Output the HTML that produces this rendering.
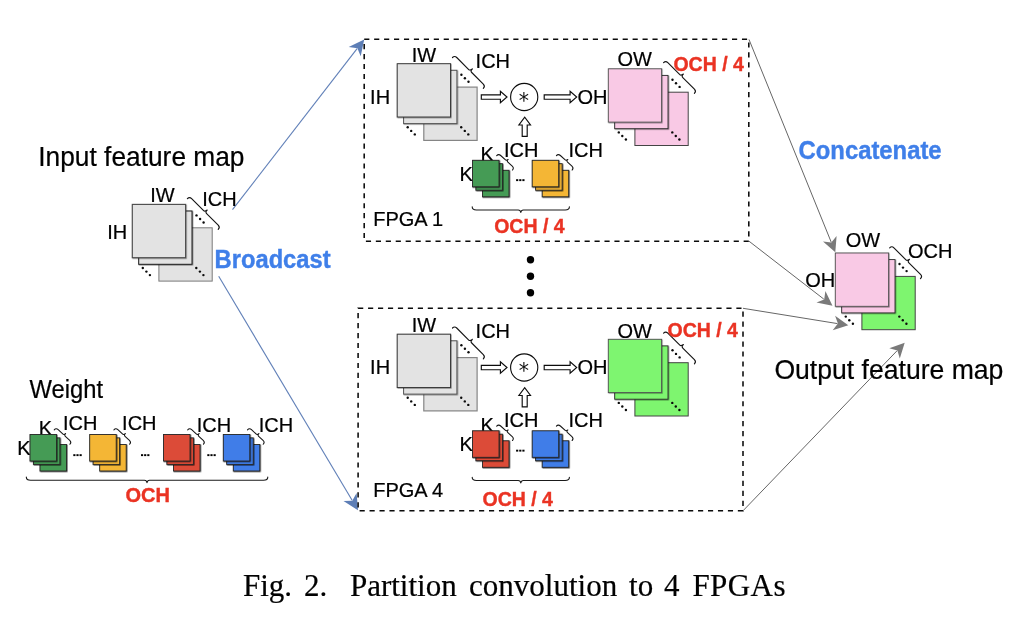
<!DOCTYPE html>
<html><head><meta charset="utf-8"><title>Fig. 2</title>
<style>html,body{margin:0;padding:0;background:#fff;overflow:hidden}svg{display:block;will-change:transform;opacity:0.9999}</style></head>
<body>
<svg width="1020" height="617" viewBox="0 0 1020 617">
<rect width="1020" height="617" fill="#fff"/>
<defs><filter id="sh" x="-10%" y="-10%" width="125%" height="125%"><feDropShadow dx="0.6" dy="0.6" stdDeviation="0.28" flood-color="#000" flood-opacity="0.75"/></filter><filter id="shb" x="-10%" y="-10%" width="125%" height="125%"><feDropShadow dx="0.6" dy="0.6" stdDeviation="0.35" flood-color="#000" flood-opacity="0.5"/></filter></defs>
<line x1="232.5" y1="209.7" x2="357.1" y2="48.6" stroke="#6180b8" stroke-width="1.12"/>
<path d="M364.2,39.4 L360.7,56.3 L357.4,48.2 L348.7,47.0 Z" fill="#5d7eb6"/>
<line x1="218.7" y1="276.3" x2="352.1" y2="500.3" stroke="#6180b8" stroke-width="1.12"/>
<path d="M358.0,510.3 L343.5,500.9 L352.3,500.7 L356.6,493.1 Z" fill="#5d7eb6"/>
<line x1="749" y1="39.5" x2="831.2" y2="242.1" stroke="#666" stroke-width="1"/>
<path d="M835.3,252.2 L823.0,241.4 L831.3,242.5 L836.6,235.9 Z" fill="#7a7a7a"/>
<line x1="749" y1="241.2" x2="823.8" y2="299.1" stroke="#666" stroke-width="1"/>
<path d="M832.5,305.8 L816.5,302.6 L824.2,299.4 L825.4,291.1 Z" fill="#7a7a7a"/>
<line x1="743" y1="308.3" x2="837.5" y2="323.6" stroke="#666" stroke-width="1"/>
<path d="M848.3,325.3 L832.7,330.2 L837.9,323.6 L835.1,315.8 Z" fill="#7a7a7a"/>
<line x1="743" y1="510.8" x2="897.1" y2="350.7" stroke="#666" stroke-width="1"/>
<path d="M904.7,342.8 L899.8,358.4 L897.4,350.4 L889.3,348.3 Z" fill="#7a7a7a"/>
<rect x="364.2" y="39.3" width="384.6" height="201.9" fill="none" stroke="#0a0a0a" stroke-width="1.55" stroke-dasharray="5.15 4.7907"/>
<rect x="358.1" y="308.3" width="384.9" height="202.4" fill="none" stroke="#0a0a0a" stroke-width="1.55" stroke-dasharray="5.15 4.8042"/>
<text x="38.3" y="165.8" font-family='"Liberation Sans", Arial, Helvetica, sans-serif' font-size="27.04" fill="#000" textLength="206.2" lengthAdjust="spacingAndGlyphs" stroke="#000" stroke-width="0.22" xml:space="preserve">Input feature map</text>
<rect x="158.9" y="227.8" width="53.3" height="53.3" fill="#E3E3E3" stroke="#7a7a7a" stroke-width="1"/>
<rect x="138.7" y="211.0" width="53.3" height="53.3" fill="#E3E3E3" stroke="#1c1c1c" stroke-width="1" filter="url(#shb)"/>
<rect x="132.3" y="204.4" width="53.3" height="53.3" fill="#E3E3E3" stroke="#4a4a4a" stroke-width="1.1" filter="url(#shb)"/>
<circle cx="196.5" cy="215.4" r="1.2" fill="#0a0a0a"/>
<circle cx="200.1" cy="219.0" r="1.2" fill="#0a0a0a"/>
<circle cx="203.6" cy="222.5" r="1.2" fill="#0a0a0a"/>
<circle cx="142.8" cy="268.0" r="1.2" fill="#0a0a0a"/>
<circle cx="146.4" cy="271.6" r="1.2" fill="#0a0a0a"/>
<circle cx="149.9" cy="275.1" r="1.2" fill="#0a0a0a"/>
<circle cx="196.3" cy="268.0" r="1.2" fill="#0a0a0a"/>
<circle cx="199.9" cy="271.6" r="1.2" fill="#0a0a0a"/>
<circle cx="203.4" cy="275.1" r="1.2" fill="#0a0a0a"/>
<path transform="translate(189.5,196.5) rotate(45)" d="M0,3.0 C0,1.05 1.05,0 3.0,0 L20.00,0 Q21.60,0 22.10,-2.9 M22.10,-2.9 Q22.00,0 24.20,0 L40.6,0 C42.55,0 43.6,1.05 43.6,3.0" fill="none" stroke="#151515" stroke-width="1.15" stroke-linecap="round" stroke-linejoin="round"/>
<text x="150.3" y="201.7" font-family='"Liberation Sans", Arial, Helvetica, sans-serif' font-size="20.8" fill="#000" textLength="24.43" lengthAdjust="spacingAndGlyphs" stroke="#000" stroke-width="0.22" xml:space="preserve">IW</text>
<text x="202.2" y="206.3" font-family='"Liberation Sans", Arial, Helvetica, sans-serif' font-size="20.8" fill="#000" textLength="34.44" lengthAdjust="spacingAndGlyphs" stroke="#000" stroke-width="0.22" xml:space="preserve">ICH</text>
<text x="107.3" y="238.6" font-family='"Liberation Sans", Arial, Helvetica, sans-serif' font-size="20.8" fill="#000" textLength="20.0" lengthAdjust="spacingAndGlyphs" stroke="#000" stroke-width="0.22" xml:space="preserve">IH</text>
<text x="214.6" y="268" font-family='"Liberation Sans", Arial, Helvetica, sans-serif' font-size="24.96" fill="#3F7FE9" textLength="116" lengthAdjust="spacingAndGlyphs" font-weight="bold" stroke="#3F7FE9" stroke-width="0.4" xml:space="preserve">Broadcast</text>
<text x="29.6" y="398" font-family='"Liberation Sans", Arial, Helvetica, sans-serif' font-size="24.96" fill="#000" textLength="73.5" lengthAdjust="spacingAndGlyphs" stroke="#000" stroke-width="0.22" xml:space="preserve">Weight</text>
<text x="38.8" y="435" font-family='"Liberation Sans", Arial, Helvetica, sans-serif' font-size="20.8" fill="#000" textLength="13.34" lengthAdjust="spacingAndGlyphs" stroke="#000" stroke-width="0.22" xml:space="preserve">K</text>
<text x="17.2" y="455" font-family='"Liberation Sans", Arial, Helvetica, sans-serif' font-size="20.8" fill="#000" textLength="13.34" lengthAdjust="spacingAndGlyphs" stroke="#000" stroke-width="0.22" xml:space="preserve">K</text>
<rect x="40.0" y="444.5" width="26.5" height="26.5" fill="#459B54" stroke="#262626" stroke-width="0.9" filter="url(#sh)"/>
<rect x="33.4" y="437.9" width="26.5" height="26.5" fill="#459B54" stroke="#262626" stroke-width="0.9" filter="url(#sh)"/>
<rect x="30.0" y="434.5" width="26.5" height="26.5" fill="#459B54" stroke="#262626" stroke-width="0.9" filter="url(#sh)"/>
<path transform="translate(56.1,427.8) rotate(42.5)" d="M0,2.8 C0,0.98 0.98,0 2.8,0 L9.35,0 Q10.45,0 10.95,-2.1 M10.95,-2.1 Q10.85,0 12.55,0 L18.5,0 C20.32,0 21.3,0.98 21.3,2.8" fill="none" stroke="#151515" stroke-width="1.05" stroke-linecap="round" stroke-linejoin="round"/>
<rect x="99.7" y="444.5" width="26.5" height="26.5" fill="#F4B636" stroke="#262626" stroke-width="0.9" filter="url(#sh)"/>
<rect x="93.1" y="437.9" width="26.5" height="26.5" fill="#F4B636" stroke="#262626" stroke-width="0.9" filter="url(#sh)"/>
<rect x="89.7" y="434.5" width="26.5" height="26.5" fill="#F4B636" stroke="#262626" stroke-width="0.9" filter="url(#sh)"/>
<path transform="translate(115.8,427.8) rotate(42.5)" d="M0,2.8 C0,0.98 0.98,0 2.8,0 L9.35,0 Q10.45,0 10.95,-2.1 M10.95,-2.1 Q10.85,0 12.55,0 L18.5,0 C20.32,0 21.3,0.98 21.3,2.8" fill="none" stroke="#151515" stroke-width="1.05" stroke-linecap="round" stroke-linejoin="round"/>
<rect x="173.5" y="444.5" width="26.5" height="26.5" fill="#DC4B38" stroke="#262626" stroke-width="0.9" filter="url(#sh)"/>
<rect x="166.9" y="437.9" width="26.5" height="26.5" fill="#DC4B38" stroke="#262626" stroke-width="0.9" filter="url(#sh)"/>
<rect x="163.5" y="434.5" width="26.5" height="26.5" fill="#DC4B38" stroke="#262626" stroke-width="0.9" filter="url(#sh)"/>
<path transform="translate(189.6,427.8) rotate(42.5)" d="M0,2.8 C0,0.98 0.98,0 2.8,0 L9.35,0 Q10.45,0 10.95,-2.1 M10.95,-2.1 Q10.85,0 12.55,0 L18.5,0 C20.32,0 21.3,0.98 21.3,2.8" fill="none" stroke="#151515" stroke-width="1.05" stroke-linecap="round" stroke-linejoin="round"/>
<rect x="233.3" y="444.5" width="26.5" height="26.5" fill="#407DE8" stroke="#262626" stroke-width="0.9" filter="url(#sh)"/>
<rect x="226.7" y="437.9" width="26.5" height="26.5" fill="#407DE8" stroke="#262626" stroke-width="0.9" filter="url(#sh)"/>
<rect x="223.3" y="434.5" width="26.5" height="26.5" fill="#407DE8" stroke="#262626" stroke-width="0.9" filter="url(#sh)"/>
<path transform="translate(249.4,427.8) rotate(42.5)" d="M0,2.8 C0,0.98 0.98,0 2.8,0 L9.35,0 Q10.45,0 10.95,-2.1 M10.95,-2.1 Q10.85,0 12.55,0 L18.5,0 C20.32,0 21.3,0.98 21.3,2.8" fill="none" stroke="#151515" stroke-width="1.05" stroke-linecap="round" stroke-linejoin="round"/>
<text x="62.9" y="430" font-family='"Liberation Sans", Arial, Helvetica, sans-serif' font-size="20.8" fill="#000" textLength="34.44" lengthAdjust="spacingAndGlyphs" stroke="#000" stroke-width="0.22" xml:space="preserve">ICH</text>
<text x="122.1" y="430" font-family='"Liberation Sans", Arial, Helvetica, sans-serif' font-size="20.8" fill="#000" textLength="34.44" lengthAdjust="spacingAndGlyphs" stroke="#000" stroke-width="0.22" xml:space="preserve">ICH</text>
<text x="196.7" y="431.7" font-family='"Liberation Sans", Arial, Helvetica, sans-serif' font-size="20.8" fill="#000" textLength="34.44" lengthAdjust="spacingAndGlyphs" stroke="#000" stroke-width="0.22" xml:space="preserve">ICH</text>
<text x="258.7" y="431.7" font-family='"Liberation Sans", Arial, Helvetica, sans-serif' font-size="20.8" fill="#000" textLength="34.44" lengthAdjust="spacingAndGlyphs" stroke="#000" stroke-width="0.22" xml:space="preserve">ICH</text>
<rect x="73.30" y="454.2" width="2.15" height="1.9" fill="#000"/>
<rect x="76.43" y="454.2" width="2.15" height="1.9" fill="#000"/>
<rect x="79.56" y="454.2" width="2.15" height="1.9" fill="#000"/>
<rect x="141.00" y="454.2" width="2.15" height="1.9" fill="#000"/>
<rect x="144.13" y="454.2" width="2.15" height="1.9" fill="#000"/>
<rect x="147.26" y="454.2" width="2.15" height="1.9" fill="#000"/>
<rect x="207.30" y="454.2" width="2.15" height="1.9" fill="#000"/>
<rect x="210.43" y="454.2" width="2.15" height="1.9" fill="#000"/>
<rect x="213.56" y="454.2" width="2.15" height="1.9" fill="#000"/>
<path d="M26.3,477 Q26.3,480.3 30.600000000000012,480.3 H144.4 Q146.7,480.3 147,482.6 Q147.3,480.3 149.6,480.3 H263.5 Q267.8,480.3 267.8,477" fill="none" stroke="#1a1a1a" stroke-width="1.1" stroke-linecap="round" stroke-linejoin="round"/>
<text x="125.5" y="502.3" font-family='"Liberation Sans", Arial, Helvetica, sans-serif' font-size="20.8" fill="#EA3323" textLength="44.44" lengthAdjust="spacingAndGlyphs" font-weight="bold" stroke="#EA3323" stroke-width="0.4" xml:space="preserve">OCH</text>
<rect x="423.8" y="87.1" width="53.3" height="53.3" fill="#E3E3E3" stroke="#858585" stroke-width="1.2"/>
<rect x="403.6" y="70.3" width="53.3" height="53.3" fill="#E3E3E3" stroke="#555" stroke-width="1.0" filter="url(#shb)"/>
<rect x="397.2" y="63.7" width="53.3" height="53.3" fill="#E3E3E3" stroke="#3a3a3a" stroke-width="1.0" filter="url(#shb)"/>
<circle cx="461.4" cy="74.7" r="1.2" fill="#0a0a0a"/>
<circle cx="464.9" cy="78.2" r="1.2" fill="#0a0a0a"/>
<circle cx="468.5" cy="81.8" r="1.2" fill="#0a0a0a"/>
<circle cx="407.7" cy="127.3" r="1.2" fill="#0a0a0a"/>
<circle cx="411.2" cy="130.9" r="1.2" fill="#0a0a0a"/>
<circle cx="414.8" cy="134.4" r="1.2" fill="#0a0a0a"/>
<circle cx="461.2" cy="127.3" r="1.2" fill="#0a0a0a"/>
<circle cx="464.8" cy="130.9" r="1.2" fill="#0a0a0a"/>
<circle cx="468.3" cy="134.4" r="1.2" fill="#0a0a0a"/>
<path transform="translate(454.6,55.4) rotate(45)" d="M0,3.0 C0,1.05 1.05,0 3.0,0 L20.00,0 Q21.60,0 22.10,-2.9 M22.10,-2.9 Q22.00,0 24.20,0 L40.6,0 C42.55,0 43.6,1.05 43.6,3.0" fill="none" stroke="#151515" stroke-width="1.15" stroke-linecap="round" stroke-linejoin="round"/>
<text x="411.8" y="61.7" font-family='"Liberation Sans", Arial, Helvetica, sans-serif' font-size="20.8" fill="#000" textLength="24.43" lengthAdjust="spacingAndGlyphs" stroke="#000" stroke-width="0.22" xml:space="preserve">IW</text>
<text x="475.6" y="67.8" font-family='"Liberation Sans", Arial, Helvetica, sans-serif' font-size="20.8" fill="#000" textLength="34.44" lengthAdjust="spacingAndGlyphs" stroke="#000" stroke-width="0.22" xml:space="preserve">ICH</text>
<text x="370.1" y="103.8" font-family='"Liberation Sans", Arial, Helvetica, sans-serif' font-size="20.8" fill="#000" textLength="20.0" lengthAdjust="spacingAndGlyphs" stroke="#000" stroke-width="0.22" xml:space="preserve">IH</text>
<path d="M481.3,94.8 H500.4 V91.2 L507,97 L500.4,102.8 V99.2 H481.3 Z" fill="#fff" stroke="#0c0c0c" stroke-width="1.15" stroke-linejoin="miter"/>
<circle cx="524.2" cy="97" r="13.6" fill="#fff" stroke="#0c0c0c" stroke-width="1.12"/>
<text x="523.9" y="107.7" font-family="DejaVu Sans, sans-serif" font-size="20.5" text-anchor="middle" fill="#111">*</text>
<path d="M544.2,94.8 H570.1 V91.2 L576.7,97 L570.1,102.8 V99.2 H544.2 Z" fill="#fff" stroke="#0c0c0c" stroke-width="1.15" stroke-linejoin="miter"/>
<path d="M522.2,136.4 V125.0 H518.9000000000001 L524.7,117.2 L530.5,125.0 H527.2 V136.4 Z" fill="#fff" stroke="#0c0c0c" stroke-width="1.15" stroke-linejoin="miter"/>
<text x="577.4" y="103.7" font-family='"Liberation Sans", Arial, Helvetica, sans-serif' font-size="20.8" fill="#000" textLength="30.0" lengthAdjust="spacingAndGlyphs" stroke="#000" stroke-width="0.22" xml:space="preserve">OH</text>
<rect x="634.9" y="92.2" width="53.3" height="53.3" fill="#F9C9E5" stroke="#444" stroke-width="1"/>
<rect x="614.7" y="75.4" width="53.3" height="53.3" fill="#F9C9E5" stroke="#2a2a2a" stroke-width="0.9" filter="url(#shb)"/>
<rect x="608.3" y="68.8" width="53.3" height="53.3" fill="#F9C9E5" stroke="#505050" stroke-width="0.9" filter="url(#shb)"/>
<circle cx="672.5" cy="79.8" r="1.2" fill="#0a0a0a"/>
<circle cx="676.0" cy="83.3" r="1.2" fill="#0a0a0a"/>
<circle cx="679.6" cy="86.9" r="1.2" fill="#0a0a0a"/>
<circle cx="618.8" cy="132.4" r="1.2" fill="#0a0a0a"/>
<circle cx="622.3" cy="136.0" r="1.2" fill="#0a0a0a"/>
<circle cx="625.9" cy="139.5" r="1.2" fill="#0a0a0a"/>
<circle cx="672.3" cy="132.4" r="1.2" fill="#0a0a0a"/>
<circle cx="675.8" cy="136.0" r="1.2" fill="#0a0a0a"/>
<circle cx="679.4" cy="139.5" r="1.2" fill="#0a0a0a"/>
<path transform="translate(665.7,60.5) rotate(45)" d="M0,3.0 C0,1.05 1.05,0 3.0,0 L20.00,0 Q21.60,0 22.10,-2.9 M22.10,-2.9 Q22.00,0 24.20,0 L40.6,0 C42.55,0 43.6,1.05 43.6,3.0" fill="none" stroke="#151515" stroke-width="1.15" stroke-linecap="round" stroke-linejoin="round"/>
<text x="617.4" y="65.8" font-family='"Liberation Sans", Arial, Helvetica, sans-serif' font-size="20.8" fill="#000" textLength="34.43" lengthAdjust="spacingAndGlyphs" stroke="#000" stroke-width="0.22" xml:space="preserve">OW</text>
<text x="673.4" y="70.8" font-family='"Liberation Sans", Arial, Helvetica, sans-serif' font-size="20.8" fill="#EA3323" textLength="70.43" lengthAdjust="spacingAndGlyphs" font-weight="bold" stroke="#EA3323" stroke-width="0.4" xml:space="preserve">OCH / 4</text>
<text x="480.4" y="161" font-family='"Liberation Sans", Arial, Helvetica, sans-serif' font-size="20.8" fill="#000" textLength="13.34" lengthAdjust="spacingAndGlyphs" stroke="#000" stroke-width="0.22" xml:space="preserve">K</text>
<text x="459.4" y="180.5" font-family='"Liberation Sans", Arial, Helvetica, sans-serif' font-size="20.8" fill="#000" textLength="13.34" lengthAdjust="spacingAndGlyphs" stroke="#000" stroke-width="0.22" xml:space="preserve">K</text>
<rect x="482.5" y="170.3" width="26.5" height="26.5" fill="#459B54" stroke="#262626" stroke-width="0.9" filter="url(#sh)"/>
<rect x="475.9" y="163.7" width="26.5" height="26.5" fill="#459B54" stroke="#262626" stroke-width="0.9" filter="url(#sh)"/>
<rect x="472.5" y="160.3" width="26.5" height="26.5" fill="#459B54" stroke="#262626" stroke-width="0.9" filter="url(#sh)"/>
<path transform="translate(498.6,153.6) rotate(42.5)" d="M0,2.8 C0,0.98 0.98,0 2.8,0 L9.35,0 Q10.45,0 10.95,-2.1 M10.95,-2.1 Q10.85,0 12.55,0 L18.5,0 C20.32,0 21.3,0.98 21.3,2.8" fill="none" stroke="#151515" stroke-width="1.05" stroke-linecap="round" stroke-linejoin="round"/>
<rect x="542.2" y="170.3" width="26.5" height="26.5" fill="#F4B636" stroke="#262626" stroke-width="0.9" filter="url(#sh)"/>
<rect x="535.6" y="163.7" width="26.5" height="26.5" fill="#F4B636" stroke="#262626" stroke-width="0.9" filter="url(#sh)"/>
<rect x="532.2" y="160.3" width="26.5" height="26.5" fill="#F4B636" stroke="#262626" stroke-width="0.9" filter="url(#sh)"/>
<path transform="translate(558.3,153.6) rotate(42.5)" d="M0,2.8 C0,0.98 0.98,0 2.8,0 L9.35,0 Q10.45,0 10.95,-2.1 M10.95,-2.1 Q10.85,0 12.55,0 L18.5,0 C20.32,0 21.3,0.98 21.3,2.8" fill="none" stroke="#151515" stroke-width="1.05" stroke-linecap="round" stroke-linejoin="round"/>
<text x="503.9" y="156.8" font-family='"Liberation Sans", Arial, Helvetica, sans-serif' font-size="20.8" fill="#000" textLength="34.44" lengthAdjust="spacingAndGlyphs" stroke="#000" stroke-width="0.22" xml:space="preserve">ICH</text>
<text x="568.4" y="156.8" font-family='"Liberation Sans", Arial, Helvetica, sans-serif' font-size="20.8" fill="#000" textLength="34.44" lengthAdjust="spacingAndGlyphs" stroke="#000" stroke-width="0.22" xml:space="preserve">ICH</text>
<rect x="516.10" y="179.2" width="2.15" height="1.9" fill="#000"/>
<rect x="519.23" y="179.2" width="2.15" height="1.9" fill="#000"/>
<rect x="522.36" y="179.2" width="2.15" height="1.9" fill="#000"/>
<path d="M472.2,206.8 Q472.2,210 476.4,210 H518.1999999999999 Q520.5,210 520.8,212.5 Q521.0999999999999,210 523.4,210 H565.2 Q569.4,210 569.4,206.8" fill="none" stroke="#1a1a1a" stroke-width="1.1" stroke-linecap="round" stroke-linejoin="round"/>
<text x="373.2" y="225.8" font-family='"Liberation Sans", Arial, Helvetica, sans-serif' font-size="20.8" fill="#000" textLength="70.03" lengthAdjust="spacingAndGlyphs" stroke="#000" stroke-width="0.22" xml:space="preserve">FPGA 1</text>
<text x="494.2" y="233.2" font-family='"Liberation Sans", Arial, Helvetica, sans-serif' font-size="20.8" fill="#EA3323" textLength="70.43" lengthAdjust="spacingAndGlyphs" font-weight="bold" stroke="#EA3323" stroke-width="0.4" xml:space="preserve">OCH / 4</text>
<rect x="423.8" y="357.6" width="53.3" height="53.3" fill="#E3E3E3" stroke="#858585" stroke-width="1.2"/>
<rect x="403.6" y="340.8" width="53.3" height="53.3" fill="#E3E3E3" stroke="#555" stroke-width="1.0" filter="url(#shb)"/>
<rect x="397.2" y="334.2" width="53.3" height="53.3" fill="#E3E3E3" stroke="#3a3a3a" stroke-width="1.0" filter="url(#shb)"/>
<circle cx="461.4" cy="345.2" r="1.2" fill="#0a0a0a"/>
<circle cx="464.9" cy="348.8" r="1.2" fill="#0a0a0a"/>
<circle cx="468.5" cy="352.3" r="1.2" fill="#0a0a0a"/>
<circle cx="407.7" cy="397.8" r="1.2" fill="#0a0a0a"/>
<circle cx="411.2" cy="401.4" r="1.2" fill="#0a0a0a"/>
<circle cx="414.8" cy="404.9" r="1.2" fill="#0a0a0a"/>
<circle cx="461.2" cy="397.8" r="1.2" fill="#0a0a0a"/>
<circle cx="464.8" cy="401.4" r="1.2" fill="#0a0a0a"/>
<circle cx="468.3" cy="404.9" r="1.2" fill="#0a0a0a"/>
<path transform="translate(454.6,325.9) rotate(45)" d="M0,3.0 C0,1.05 1.05,0 3.0,0 L20.00,0 Q21.60,0 22.10,-2.9 M22.10,-2.9 Q22.00,0 24.20,0 L40.6,0 C42.55,0 43.6,1.05 43.6,3.0" fill="none" stroke="#151515" stroke-width="1.15" stroke-linecap="round" stroke-linejoin="round"/>
<text x="411.8" y="332.2" font-family='"Liberation Sans", Arial, Helvetica, sans-serif' font-size="20.8" fill="#000" textLength="24.43" lengthAdjust="spacingAndGlyphs" stroke="#000" stroke-width="0.22" xml:space="preserve">IW</text>
<text x="475.6" y="338.3" font-family='"Liberation Sans", Arial, Helvetica, sans-serif' font-size="20.8" fill="#000" textLength="34.44" lengthAdjust="spacingAndGlyphs" stroke="#000" stroke-width="0.22" xml:space="preserve">ICH</text>
<text x="370.1" y="374.3" font-family='"Liberation Sans", Arial, Helvetica, sans-serif' font-size="20.8" fill="#000" textLength="20.0" lengthAdjust="spacingAndGlyphs" stroke="#000" stroke-width="0.22" xml:space="preserve">IH</text>
<path d="M481.3,365.3 H500.4 V361.7 L507,367.5 L500.4,373.3 V369.7 H481.3 Z" fill="#fff" stroke="#0c0c0c" stroke-width="1.15" stroke-linejoin="miter"/>
<circle cx="524.2" cy="367.5" r="13.6" fill="#fff" stroke="#0c0c0c" stroke-width="1.12"/>
<text x="523.9" y="378.2" font-family="DejaVu Sans, sans-serif" font-size="20.5" text-anchor="middle" fill="#111">*</text>
<path d="M544.2,365.3 H570.1 V361.7 L576.7,367.5 L570.1,373.3 V369.7 H544.2 Z" fill="#fff" stroke="#0c0c0c" stroke-width="1.15" stroke-linejoin="miter"/>
<path d="M522.2,406.9 V395.5 H518.9000000000001 L524.7,387.7 L530.5,395.5 H527.2 V406.9 Z" fill="#fff" stroke="#0c0c0c" stroke-width="1.15" stroke-linejoin="miter"/>
<text x="577.4" y="374.2" font-family='"Liberation Sans", Arial, Helvetica, sans-serif' font-size="20.8" fill="#000" textLength="30.0" lengthAdjust="spacingAndGlyphs" stroke="#000" stroke-width="0.22" xml:space="preserve">OH</text>
<rect x="634.9" y="362.7" width="53.3" height="53.3" fill="#7EF56F" stroke="#444" stroke-width="1"/>
<rect x="614.7" y="345.9" width="53.3" height="53.3" fill="#7EF56F" stroke="#2a2a2a" stroke-width="0.9" filter="url(#shb)"/>
<rect x="608.3" y="339.3" width="53.3" height="53.3" fill="#7EF56F" stroke="#505050" stroke-width="0.9" filter="url(#shb)"/>
<circle cx="672.5" cy="350.3" r="1.2" fill="#0a0a0a"/>
<circle cx="676.0" cy="353.9" r="1.2" fill="#0a0a0a"/>
<circle cx="679.6" cy="357.4" r="1.2" fill="#0a0a0a"/>
<circle cx="618.8" cy="402.9" r="1.2" fill="#0a0a0a"/>
<circle cx="622.3" cy="406.5" r="1.2" fill="#0a0a0a"/>
<circle cx="625.9" cy="410.0" r="1.2" fill="#0a0a0a"/>
<circle cx="672.3" cy="402.9" r="1.2" fill="#0a0a0a"/>
<circle cx="675.8" cy="406.5" r="1.2" fill="#0a0a0a"/>
<circle cx="679.4" cy="410.0" r="1.2" fill="#0a0a0a"/>
<path transform="translate(665.7,331.0) rotate(45)" d="M0,3.0 C0,1.05 1.05,0 3.0,0 L20.00,0 Q21.60,0 22.10,-2.9 M22.10,-2.9 Q22.00,0 24.20,0 L40.6,0 C42.55,0 43.6,1.05 43.6,3.0" fill="none" stroke="#151515" stroke-width="1.15" stroke-linecap="round" stroke-linejoin="round"/>
<text x="617.4" y="337.5" font-family='"Liberation Sans", Arial, Helvetica, sans-serif' font-size="20.8" fill="#000" textLength="34.43" lengthAdjust="spacingAndGlyphs" stroke="#000" stroke-width="0.22" xml:space="preserve">OW</text>
<text x="667.5" y="336.7" font-family='"Liberation Sans", Arial, Helvetica, sans-serif' font-size="20.8" fill="#EA3323" textLength="70.43" lengthAdjust="spacingAndGlyphs" font-weight="bold" stroke="#EA3323" stroke-width="0.4" xml:space="preserve">OCH / 4</text>
<text x="480.4" y="431.5" font-family='"Liberation Sans", Arial, Helvetica, sans-serif' font-size="20.8" fill="#000" textLength="13.34" lengthAdjust="spacingAndGlyphs" stroke="#000" stroke-width="0.22" xml:space="preserve">K</text>
<text x="459.4" y="451.0" font-family='"Liberation Sans", Arial, Helvetica, sans-serif' font-size="20.8" fill="#000" textLength="13.34" lengthAdjust="spacingAndGlyphs" stroke="#000" stroke-width="0.22" xml:space="preserve">K</text>
<rect x="482.5" y="440.8" width="26.5" height="26.5" fill="#DC4B38" stroke="#262626" stroke-width="0.9" filter="url(#sh)"/>
<rect x="475.9" y="434.2" width="26.5" height="26.5" fill="#DC4B38" stroke="#262626" stroke-width="0.9" filter="url(#sh)"/>
<rect x="472.5" y="430.8" width="26.5" height="26.5" fill="#DC4B38" stroke="#262626" stroke-width="0.9" filter="url(#sh)"/>
<path transform="translate(498.6,424.1) rotate(42.5)" d="M0,2.8 C0,0.98 0.98,0 2.8,0 L9.35,0 Q10.45,0 10.95,-2.1 M10.95,-2.1 Q10.85,0 12.55,0 L18.5,0 C20.32,0 21.3,0.98 21.3,2.8" fill="none" stroke="#151515" stroke-width="1.05" stroke-linecap="round" stroke-linejoin="round"/>
<rect x="542.2" y="440.8" width="26.5" height="26.5" fill="#407DE8" stroke="#262626" stroke-width="0.9" filter="url(#sh)"/>
<rect x="535.6" y="434.2" width="26.5" height="26.5" fill="#407DE8" stroke="#262626" stroke-width="0.9" filter="url(#sh)"/>
<rect x="532.2" y="430.8" width="26.5" height="26.5" fill="#407DE8" stroke="#262626" stroke-width="0.9" filter="url(#sh)"/>
<path transform="translate(558.3,424.1) rotate(42.5)" d="M0,2.8 C0,0.98 0.98,0 2.8,0 L9.35,0 Q10.45,0 10.95,-2.1 M10.95,-2.1 Q10.85,0 12.55,0 L18.5,0 C20.32,0 21.3,0.98 21.3,2.8" fill="none" stroke="#151515" stroke-width="1.05" stroke-linecap="round" stroke-linejoin="round"/>
<text x="503.9" y="427.3" font-family='"Liberation Sans", Arial, Helvetica, sans-serif' font-size="20.8" fill="#000" textLength="34.44" lengthAdjust="spacingAndGlyphs" stroke="#000" stroke-width="0.22" xml:space="preserve">ICH</text>
<text x="568.4" y="427.3" font-family='"Liberation Sans", Arial, Helvetica, sans-serif' font-size="20.8" fill="#000" textLength="34.44" lengthAdjust="spacingAndGlyphs" stroke="#000" stroke-width="0.22" xml:space="preserve">ICH</text>
<rect x="516.10" y="449.7" width="2.15" height="1.9" fill="#000"/>
<rect x="519.23" y="449.7" width="2.15" height="1.9" fill="#000"/>
<rect x="522.36" y="449.7" width="2.15" height="1.9" fill="#000"/>
<path d="M472.2,477.3 Q472.2,480.5 476.4,480.5 H518.1999999999999 Q520.5,480.5 520.8,483.0 Q521.0999999999999,480.5 523.4,480.5 H565.2 Q569.4,480.5 569.4,477.3" fill="none" stroke="#1a1a1a" stroke-width="1.1" stroke-linecap="round" stroke-linejoin="round"/>
<text x="373.2" y="496.7" font-family='"Liberation Sans", Arial, Helvetica, sans-serif' font-size="20.8" fill="#000" textLength="70.03" lengthAdjust="spacingAndGlyphs" stroke="#000" stroke-width="0.22" xml:space="preserve">FPGA 4</text>
<text x="482.5" y="506.2" font-family='"Liberation Sans", Arial, Helvetica, sans-serif' font-size="20.8" fill="#EA3323" textLength="70.43" lengthAdjust="spacingAndGlyphs" font-weight="bold" stroke="#EA3323" stroke-width="0.4" xml:space="preserve">OCH / 4</text>
<circle cx="530.5" cy="259.7" r="3.7" fill="#000"/>
<circle cx="530.5" cy="276.2" r="3.7" fill="#000"/>
<circle cx="530.5" cy="292.7" r="3.7" fill="#000"/>
<text x="798.6" y="158.8" font-family='"Liberation Sans", Arial, Helvetica, sans-serif' font-size="24.96" fill="#3F7FE9" textLength="143" lengthAdjust="spacingAndGlyphs" font-weight="bold" stroke="#3F7FE9" stroke-width="0.4" xml:space="preserve">Concatenate</text>
<rect x="861.9" y="276.4" width="53.3" height="53.3" fill="#7EF56F" stroke="#444" stroke-width="1"/>
<rect x="841.7" y="259.6" width="53.3" height="53.3" fill="#F9C9E5" stroke="#2a2a2a" stroke-width="0.9" filter="url(#shb)"/>
<rect x="835.3" y="253.0" width="53.3" height="53.3" fill="#F9C9E5" stroke="#505050" stroke-width="0.9" filter="url(#shb)"/>
<circle cx="899.5" cy="264.0" r="1.2" fill="#0a0a0a"/>
<circle cx="903.0" cy="267.6" r="1.2" fill="#0a0a0a"/>
<circle cx="906.6" cy="271.1" r="1.2" fill="#0a0a0a"/>
<circle cx="845.8" cy="316.6" r="1.2" fill="#0a0a0a"/>
<circle cx="849.3" cy="320.2" r="1.2" fill="#0a0a0a"/>
<circle cx="852.9" cy="323.7" r="1.2" fill="#0a0a0a"/>
<circle cx="899.3" cy="316.6" r="1.2" fill="#0a0a0a"/>
<circle cx="902.8" cy="320.2" r="1.2" fill="#0a0a0a"/>
<circle cx="906.4" cy="323.7" r="1.2" fill="#0a0a0a"/>
<path transform="translate(891.8,245.7) rotate(45)" d="M0,3.0 C0,1.05 1.05,0 3.0,0 L20.00,0 Q21.60,0 22.10,-2.9 M22.10,-2.9 Q22.00,0 24.20,0 L40.6,0 C42.55,0 43.6,1.05 43.6,3.0" fill="none" stroke="#151515" stroke-width="1.15" stroke-linecap="round" stroke-linejoin="round"/>
<text x="845.8" y="246.7" font-family='"Liberation Sans", Arial, Helvetica, sans-serif' font-size="20.8" fill="#000" textLength="34.43" lengthAdjust="spacingAndGlyphs" stroke="#000" stroke-width="0.22" xml:space="preserve">OW</text>
<text x="805.3" y="287.2" font-family='"Liberation Sans", Arial, Helvetica, sans-serif' font-size="20.8" fill="#000" textLength="30.0" lengthAdjust="spacingAndGlyphs" stroke="#000" stroke-width="0.22" xml:space="preserve">OH</text>
<text x="907.9" y="258.3" font-family='"Liberation Sans", Arial, Helvetica, sans-serif' font-size="20.8" fill="#000" textLength="44.44" lengthAdjust="spacingAndGlyphs" stroke="#000" stroke-width="0.22" xml:space="preserve">OCH</text>
<text x="774.4" y="378.5" font-family='"Liberation Sans", Arial, Helvetica, sans-serif' font-size="27.04" fill="#000" textLength="229" lengthAdjust="spacingAndGlyphs" stroke="#000" stroke-width="0.22" xml:space="preserve">Output feature map</text>
<text y="596.3" font-family='"Liberation Serif", "Times New Roman", serif' font-size="31" fill="#000" stroke="#000" stroke-width="0.2" xml:space="preserve"><tspan x="242.90">Fig. </tspan><tspan x="304.10">2. </tspan><tspan x="349.90">Partition </tspan><tspan x="469.10">convolution </tspan><tspan x="629.10">to </tspan><tspan x="664.10">4 </tspan><tspan x="692.40" letter-spacing="0.45">FPGAs </tspan></text>
</svg>
</body></html>
